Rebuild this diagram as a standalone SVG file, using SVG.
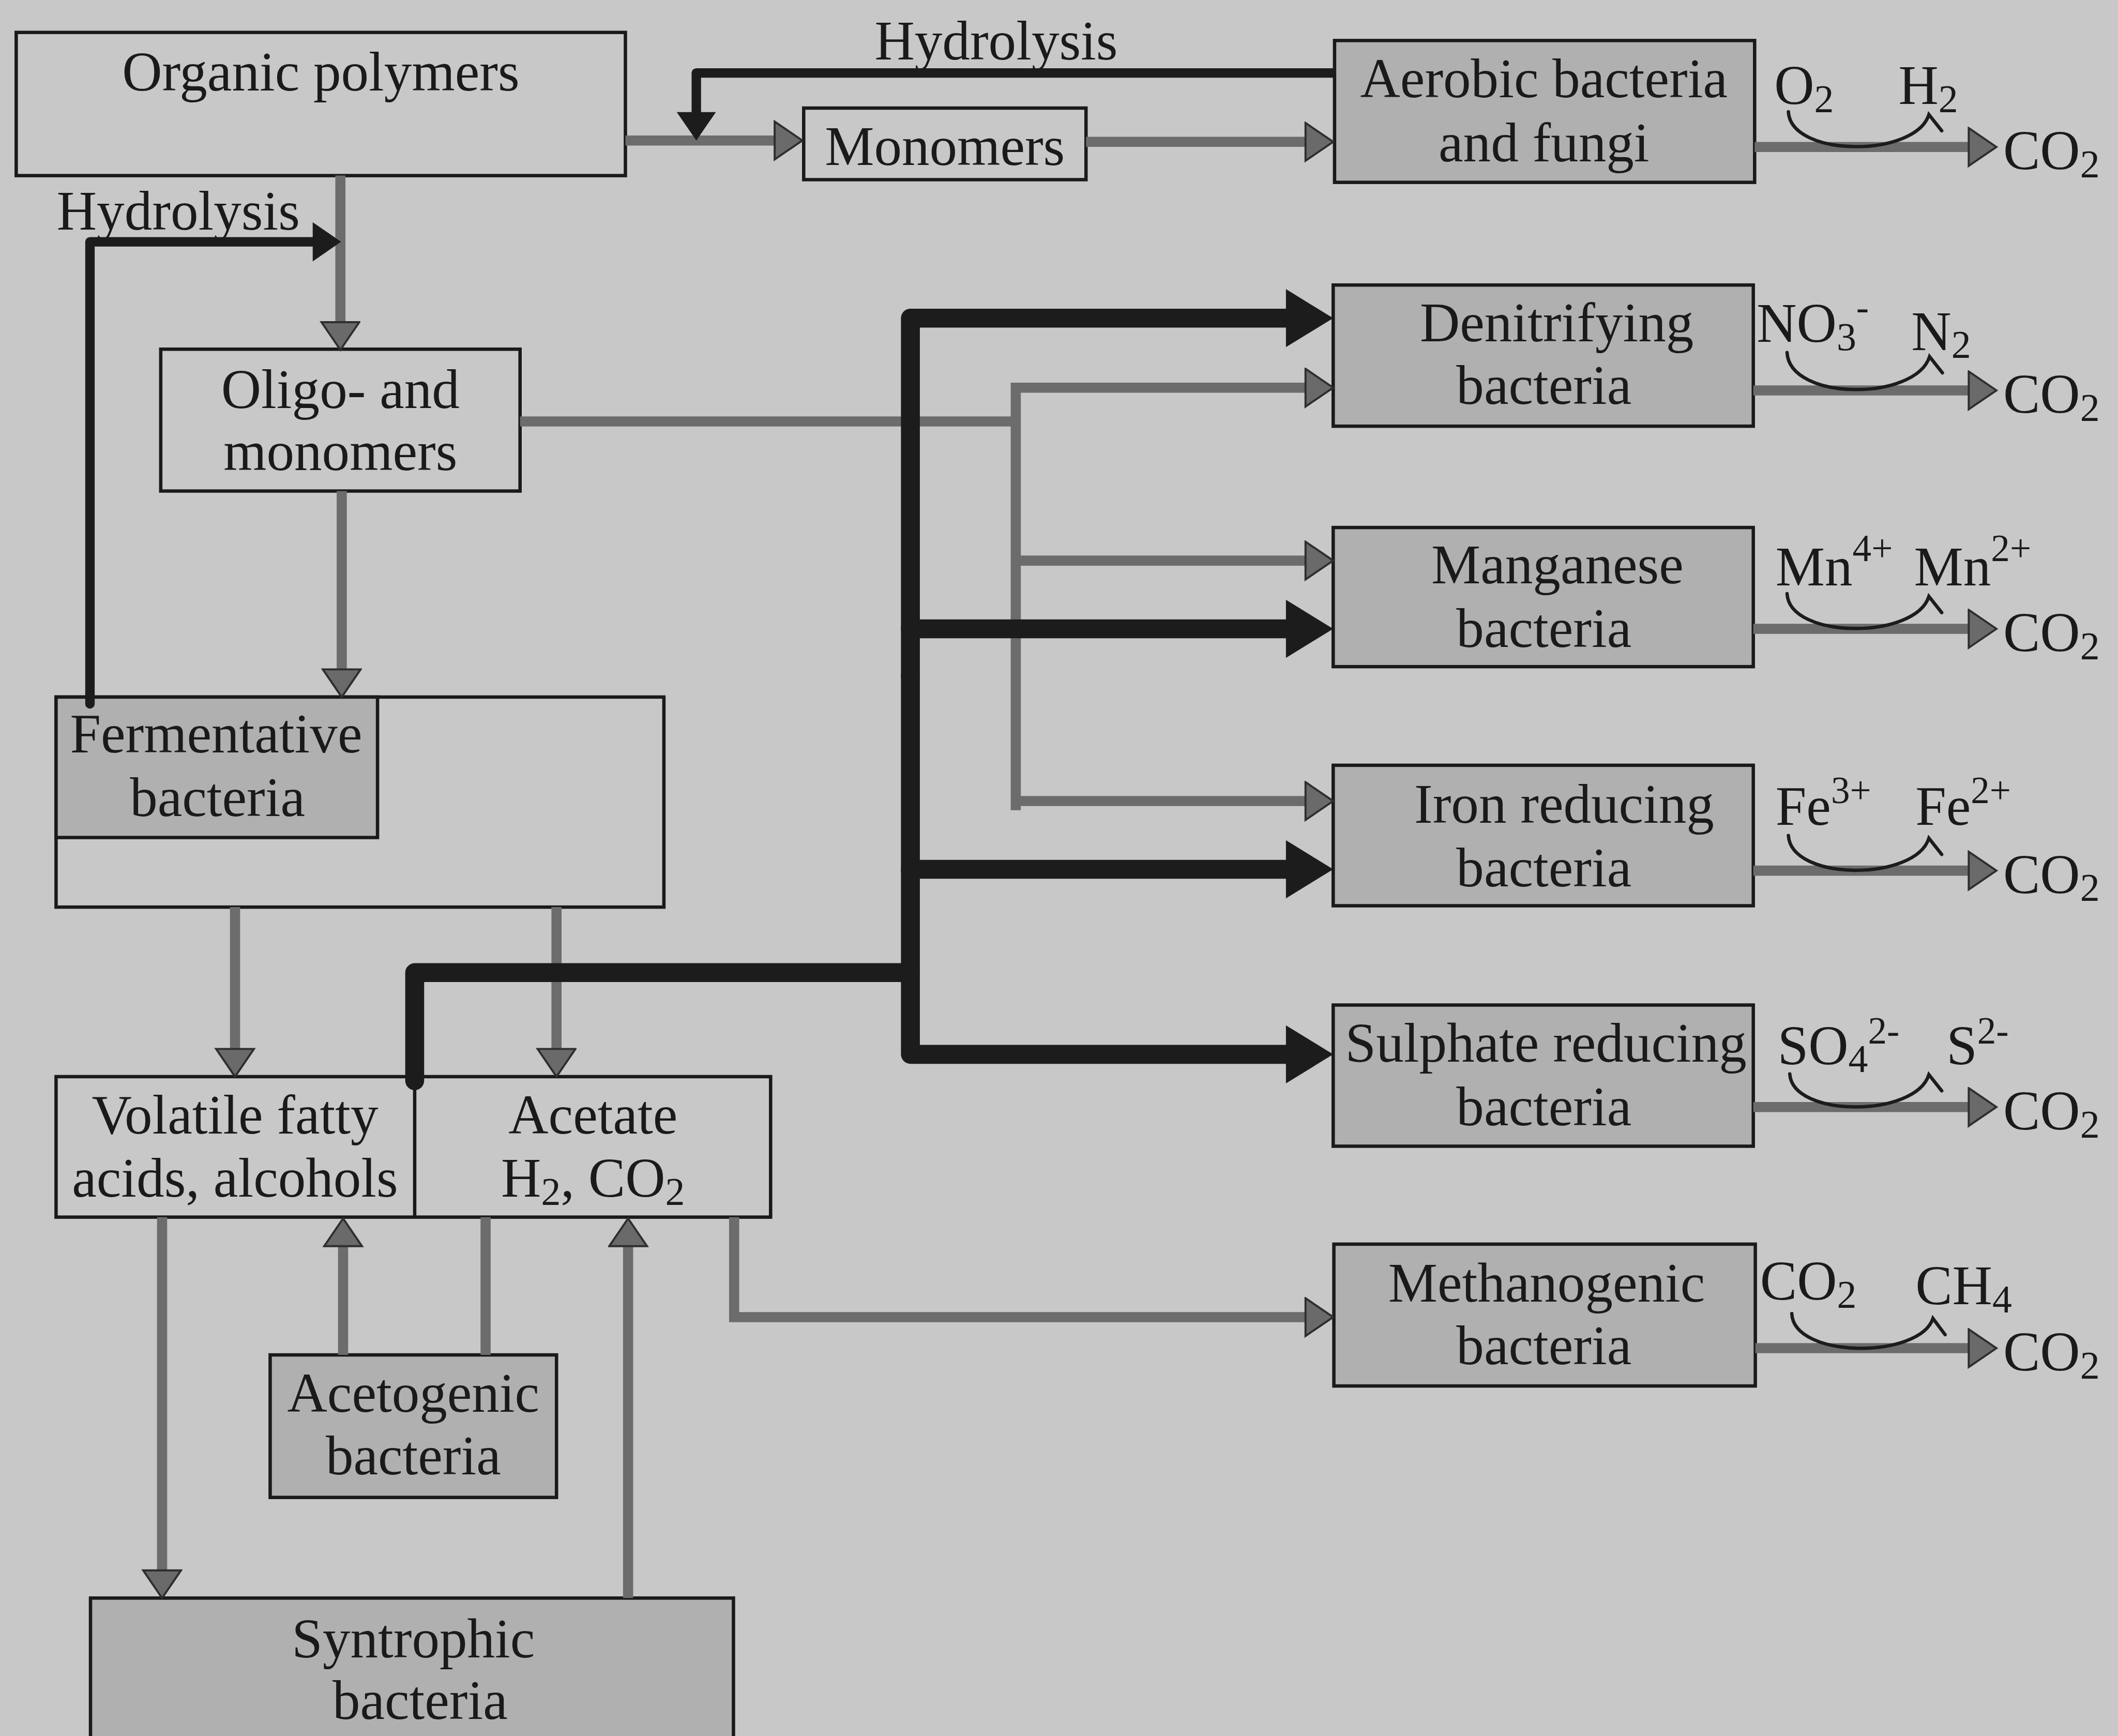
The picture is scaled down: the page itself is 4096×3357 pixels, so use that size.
<svg xmlns="http://www.w3.org/2000/svg" width="4096" height="3357" viewBox="0 0 4096 3357">
<defs>
<style>
.t{font-family:"Liberation Serif","Times New Roman",serif;font-size:41px;fill:#1a1a1a;text-anchor:middle}
.l{font-family:"Liberation Serif","Times New Roman",serif;font-size:41px;fill:#1a1a1a;text-anchor:start}
.sb{font-size:29px}
.sp{font-size:28px}
.box{fill:none;stroke:#1a1a1a;stroke-width:2.5}
.gbox{fill:#b0b0b0;stroke:#1a1a1a;stroke-width:2.5}
.g{fill:none;stroke:#6c6c6c;stroke-width:7.5;stroke-linejoin:miter}
.ga{fill:none;stroke:#6c6c6c;stroke-width:7.5;marker-end:url(#ag)}
.k{fill:none;stroke:#1c1c1c;stroke-width:14;stroke-linejoin:round;stroke-linecap:round}
.ka{fill:none;stroke:#1c1c1c;stroke-width:14;stroke-linejoin:round;stroke-linecap:round;marker-end:url(#ak)}
.ks{fill:none;stroke:#1c1c1c;stroke-width:7;stroke-linejoin:round;marker-end:url(#as)}
.c{fill:none;stroke:#1c1c1c;stroke-width:2.5;stroke-linecap:round}
</style>
<marker id="ag" markerUnits="userSpaceOnUse" markerWidth="24" markerHeight="32" viewBox="0 0 24 32" refX="1.5" refY="15" orient="auto">
<path d="M1,1 L21.5,15 L1,29 Z" fill="#6a6a6a" stroke="#2e2e2e" stroke-width="1.5"/>
</marker>
<marker id="ak" markerUnits="userSpaceOnUse" markerWidth="38" markerHeight="46" viewBox="0 0 38 46" refX="1.5" refY="23" orient="auto">
<path d="M0.5,1.5 L35.5,23 L0.5,44.5 Z" fill="#1c1c1c"/>
</marker>
<marker id="as" markerUnits="userSpaceOnUse" markerWidth="24" markerHeight="32" viewBox="0 0 24 32" refX="1.5" refY="15" orient="auto">
<path d="M0.5,0.5 L21.5,15 L0.5,29.5 Z" fill="#1c1c1c"/>
</marker>
</defs>
<rect x="0" y="0" width="4096" height="3357" fill="#c8c8c8"/>
<g transform="scale(2.61224)">

<g id="organic-polymers">
<rect class="box" x="12" y="24" width="451" height="106"/>
<text class="t" x="237.5" y="67">Organic polymers</text>
</g>
<g id="monomers">
<rect class="box" x="595" y="80" width="209" height="53"/>
<text class="t" x="699.5" y="122">Monomers</text>
</g>
<g id="aerobic">
<rect class="gbox" x="988" y="30" width="311" height="105"/>
<text class="t" x="1143" y="72">Aerobic bacteria</text>
<text class="t" x="1143" y="119.5">and fungi</text>
<text class="l" x="1313.5" y="77">O<tspan class="sb" dy="6">2</tspan></text>
<text class="l" x="1405.5" y="77">H<tspan class="sb" dy="6">2</tspan></text>
<text class="l" x="1483" y="125.3">CO<tspan class="sb" dy="6">2</tspan></text>
</g>
<g id="oligo">
<rect class="box" x="119" y="258.5" width="266" height="105"/>
<text class="t" x="252" y="302">Oligo- and</text>
<text class="t" x="252" y="348">monomers</text>
</g>
<g id="fermentative">
<rect class="box" x="41.5" y="516" width="450" height="155.5"/>
<rect class="gbox" x="41.5" y="516" width="238" height="104"/>
<text class="t" x="160" y="557">Fermentative</text>
<text class="t" x="161" y="604">bacteria</text>
</g>
<g id="vfa-acetate">
<rect class="box" x="41.5" y="797" width="529" height="104"/>
<line class="box" x1="307" y1="797" x2="307" y2="901"/>
<text class="t" x="174" y="839">Volatile fatty</text>
<text class="t" x="174" y="886">acids, alcohols</text>
<text class="t" x="439" y="839">Acetate</text>
<text class="t" x="439" y="886">H<tspan class="sb" dy="6">2</tspan><tspan dy="-6">, CO</tspan><tspan class="sb" dy="6">2</tspan></text>
</g>
<g id="acetogenic">
<rect class="gbox" x="200" y="1003" width="212" height="105.5"/>
<text class="t" x="306" y="1045">Acetogenic</text>
<text class="t" x="306" y="1091.5">bacteria</text>
</g>
<g id="syntrophic">
<rect class="gbox" x="67" y="1183" width="476" height="140"/>
<text class="t" x="306" y="1227">Syntrophic</text>
<text class="t" x="311" y="1272.5">bacteria</text>
</g>
<g id="denitrifying">
<rect class="gbox" x="987" y="211" width="311" height="104.5"/>
<text class="t" x="1152.5" y="252.5">Denitrifying</text>
<text class="t" x="1143" y="299">bacteria</text>
<text class="l" x="1300.5" y="253">NO<tspan class="sb" dy="6">3</tspan><tspan class="sp" dy="-22">-</tspan></text>
<text class="l" x="1415" y="259">N<tspan class="sb" dy="6">2</tspan></text>
<text class="l" x="1483" y="305.5">CO<tspan class="sb" dy="6">2</tspan></text>
</g>
<g id="manganese">
<rect class="gbox" x="987" y="390.5" width="311" height="103"/>
<text class="t" x="1153" y="432">Manganese</text>
<text class="t" x="1143" y="479">bacteria</text>
<text class="l" x="1314.5" y="433.5">Mn<tspan class="sp" dy="-18">4+</tspan></text>
<text class="l" x="1417" y="433.5">Mn<tspan class="sp" dy="-18">2+</tspan></text>
<text class="l" x="1483" y="482">CO<tspan class="sb" dy="6">2</tspan></text>
</g>
<g id="iron">
<rect class="gbox" x="987" y="566.5" width="311" height="104"/>
<text class="t" x="1158" y="609">Iron reducing</text>
<text class="t" x="1143" y="656">bacteria</text>
<text class="l" x="1314.5" y="610.6">Fe<tspan class="sp" dy="-16">3+</tspan></text>
<text class="l" x="1418" y="610.6">Fe<tspan class="sp" dy="-16">2+</tspan></text>
<text class="l" x="1483" y="661">CO<tspan class="sb" dy="6">2</tspan></text>
</g>
<g id="sulphate">
<rect class="gbox" x="987" y="744" width="311" height="104.5"/>
<text class="t" x="1144.5" y="786">Sulphate reducing</text>
<text class="t" x="1143" y="833">bacteria</text>
<text class="l" x="1316" y="787.7">SO<tspan class="sb" dy="6">4</tspan><tspan class="sp" dy="-21">2-</tspan></text>
<text class="l" x="1441" y="787.7">S<tspan class="sp" dy="-15">2-</tspan></text>
<text class="l" x="1483" y="836">CO<tspan class="sb" dy="6">2</tspan></text>
</g>
<g id="methanogenic">
<rect class="gbox" x="987.5" y="921" width="312" height="105"/>
<text class="t" x="1145" y="963.5">Methanogenic</text>
<text class="t" x="1143" y="1010">bacteria</text>
<text class="l" x="1303" y="962">CO<tspan class="sb" dy="6">2</tspan></text>
<text class="l" x="1418" y="965.5">CH<tspan class="sb" dy="6">4</tspan></text>
<text class="l" x="1483" y="1014.5">CO<tspan class="sb" dy="6">2</tspan></text>
</g>
<g id="labels">
<text class="t" x="737.5" y="44">Hydrolysis</text>
<text class="t" x="132" y="170">Hydrolysis</text>
</g>

<g id="connectors">
<path class="ga" d="M463,104 H574"/>
<path class="ga" d="M804,105 H967"/>
<path class="ga" d="M252,130 V239"/>
<path class="ga" d="M253,363.5 V496"/>
<path class="g" d="M385,312 H752"/>
<path class="g" d="M752,287 V596" style="stroke-linecap:square"/>
<path class="ga" d="M752,287 H967"/>
<path class="ga" d="M752,415 H967"/>
<path class="ga" d="M752,593 H967"/>
<path class="ga" d="M174,671.5 V777"/>
<path class="ga" d="M412,671.5 V777"/>
<path class="ga" d="M120,901 V1163"/>
<path class="ga" d="M254,1003 V922"/>
<path class="g" d="M359.5,1003 V901"/>
<path class="ga" d="M465,1183 V922"/>
<path class="ga" d="M543.5,901 V975 H967"/>
<path class="ga" d="M1299,108.8 H1458"/>
<path class="ga" d="M1298,289 H1458"/>
<path class="ga" d="M1298,465.5 H1458"/>
<path class="ga" d="M1298,644.5 H1458"/>
<path class="ga" d="M1298,819.5 H1458"/>
<path class="ga" d="M1299.5,998 H1458"/>
<path class="ks" d="M988,54 H515.5 V84" style="stroke-linecap:butt"/>
<path class="ks" d="M66.6,521 V179 H232.5" style="stroke-linecap:round"/>
<path class="k" d="M307,800 V720 H674"/>
<path class="ka" d="M674,500 V235.5 H953"/>
<path class="ka" d="M674,465.5 H953"/>
<path class="ka" d="M674,643.5 H953"/>
<path class="ka" d="M674,500 V780.5 H953"/>
<path class="c" d="M1324,82.8 C1326,116.8 1418,116.8 1428,84.8 L1437.5,96.8"/>
<path class="c" d="M1323,261 C1325,297 1418,297 1428.5,264 L1438,276"/>
<path class="c" d="M1323,439.5 C1325,473.5 1418,473.5 1428,441.5 L1437.5,453.5"/>
<path class="c" d="M1324,618.5 C1326,652.5 1418,652.5 1428,620.5 L1437.5,632.5"/>
<path class="c" d="M1325,795 C1327,827.5 1418,827.5 1428,795.5 L1437.5,807.5"/>
<path class="c" d="M1326.5,972.4 C1328,1006 1421,1006 1431,976 L1440,988"/>
</g>
</g>
</svg>
